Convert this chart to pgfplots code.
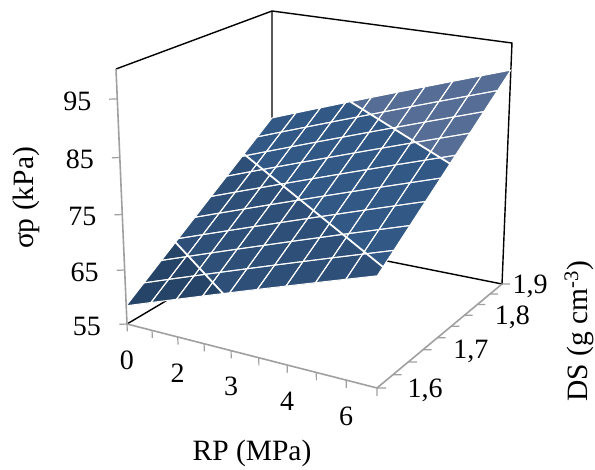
\documentclass[border=0pt]{standalone}
\usepackage{fontspec}
\usepackage{pgfplots}
\pgfplotsset{compat=1.18}
\setmainfont{Liberation Serif}
\definecolor{bandA}{RGB}{38,68,104}
\definecolor{bandB}{RGB}{46,80,120}
\definecolor{bandC}{RGB}{50,88,133}
\definecolor{bandD}{RGB}{86,109,150}
\definecolor{axgray}{RGB}{160,160,160}
% the reference is drawn in perspective: map RP index, DS, sigma to page points
\makeatletter
\def\PerspPoint#1#2#3{%
  \begingroup
  \pgfmathsetmacro\uu{(#1)/9}%
  \pgfmathsetmacro\vv{((#2)-1.6)/0.3}%
  \pgfmathsetmacro\ww{((#3)-55)/45}%
  \pgfmathsetmacro\WW{1-0.10853*\uu+0.14594*\vv-0.06*\ww}%
  \pgfmathsetmacro\XX{(127+209.09*\uu+184.70*\vv+(-17.96-4.04*\uu+1.64*\vv)*\ww)/\WW}%
  \pgfmathsetmacro\YY{(324+21.89*\uu-51.27*\vv+(-259.14+8.19*\uu-1.64*\vv)*\ww)/\WW}%
  \global\pgf@x=\XX pt
  \global\pgf@y=-\YY pt
  \endgroup}
\makeatother
\newcommand\lab{\fontsize{28}{30}\selectfont}
\newcommand\labb{\fontsize{29.5}{31}\selectfont}
\begin{document}
\begin{tikzpicture}
\begin{axis}[
  disabledatascaling, clip=false,
  x={(26.7pt,-6.1pt)}, y={(450pt,316.7pt)}, z={(0pt,5.36pt)},
  xmin=0, xmax=9, ymin=1.6, ymax=1.9, zmin=55, zmax=100,
  execute at begin axis={\let\pgfplotsqpointxyz\PerspPoint},
  axis line style={draw=none},
  tick style={draw=none}, major tick length=0pt,
  tick label style={font=\lab},
  xtick={0,1,2,3,4,5,6,7,8,9}, xticklabels={0,,2,,3,,4,,6,},
  ytick={1.6,1.6333,1.6667,1.7,1.7333,1.7667,1.8,1.8333,1.8667,1.9},
  yticklabels={{1,6},,,{1,7},,,{1,8},,,{\hspace*{-40pt}1,9}},
  ztick={55,65,75,85,95}, zticklabels={55,65,75,85,95},
  xticklabel style={anchor=center, yshift=-36pt},
  yticklabel style={anchor=center, xshift=48pt, yshift=-2pt},
  zticklabel style={anchor=center, xshift=-40pt, yshift=-2pt},
  xlabel={RP (MPa)}, ylabel={DS (g cm\textsuperscript{-3})}, zlabel={σp (kPa)},
  label style={font=\labb},
  xlabel style={at={(canvas cs:x=252pt,y=-453pt)}, anchor=center},
  ylabel style={at={(canvas cs:x=579pt,y=-331pt)}, anchor=center, rotate=90},
  zlabel style={at={(canvas cs:x=26pt,y=-198pt)}, anchor=center},
]
% floor and back walls
\addplot3[black, line width=1.4pt] coordinates {(0,1.6,55) (0,1.9,55) (9,1.9,55) (9,1.9,100) (0,1.9,100) (0,1.6,100)};
\addplot3[black, line width=1.4pt] coordinates {(0,1.9,55) (0,1.9,100)};
% colour bands between the contours
\addplot3[fill=bandA, draw=none] coordinates {(0,1.6,58.4) (3.76,1.6,65) (0,1.6943,65)};
\addplot3[fill=bandB, draw=none] coordinates {(3.76,1.6,65) (9,1.6,74.2) (9,1.6114,75) (0,1.8371,75) (0,1.6943,65)};
\addplot3[fill=bandC, draw=none] coordinates {(9,1.6114,75) (9,1.7543,85) (3.19,1.9,85) (0,1.9,79.4) (0,1.8371,75)};
\addplot3[fill=bandD, draw=none] coordinates {(9,1.7543,85) (9,1.9,95.2) (3.19,1.9,85)};
% surface grid
\addplot3[mesh, mesh/cols=10, line width=1pt, colormap={w}{color=(white) color=(white)}] table {
0 1.6 58.40
1 1.6 60.16
2 1.6 61.91
3 1.6 63.67
4 1.6 65.42
5 1.6 67.18
6 1.6 68.93
7 1.6 70.69
8 1.6 72.44
9 1.6 74.20
0 1.6333 60.73
1 1.6333 62.49
2 1.6333 64.24
3 1.6333 66.00
4 1.6333 67.75
5 1.6333 69.51
6 1.6333 71.26
7 1.6333 73.02
8 1.6333 74.77
9 1.6333 76.53
0 1.6667 63.07
1 1.6667 64.83
2 1.6667 66.58
3 1.6667 68.34
4 1.6667 70.09
5 1.6667 71.85
6 1.6667 73.60
7 1.6667 75.36
8 1.6667 77.11
9 1.6667 78.87
0 1.7 65.40
1 1.7 67.16
2 1.7 68.91
3 1.7 70.67
4 1.7 72.42
5 1.7 74.18
6 1.7 75.93
7 1.7 77.69
8 1.7 79.44
9 1.7 81.20
0 1.7333 67.73
1 1.7333 69.49
2 1.7333 71.24
3 1.7333 73.00
4 1.7333 74.75
5 1.7333 76.51
6 1.7333 78.26
7 1.7333 80.02
8 1.7333 81.77
9 1.7333 83.53
0 1.7667 70.07
1 1.7667 71.83
2 1.7667 73.58
3 1.7667 75.34
4 1.7667 77.09
5 1.7667 78.85
6 1.7667 80.60
7 1.7667 82.36
8 1.7667 84.11
9 1.7667 85.87
0 1.8 72.40
1 1.8 74.16
2 1.8 75.91
3 1.8 77.67
4 1.8 79.42
5 1.8 81.18
6 1.8 82.93
7 1.8 84.69
8 1.8 86.44
9 1.8 88.20
0 1.8333 74.73
1 1.8333 76.49
2 1.8333 78.24
3 1.8333 80.00
4 1.8333 81.75
5 1.8333 83.51
6 1.8333 85.26
7 1.8333 87.02
8 1.8333 88.77
9 1.8333 90.53
0 1.8667 77.07
1 1.8667 78.83
2 1.8667 80.58
3 1.8667 82.34
4 1.8667 84.09
5 1.8667 85.85
6 1.8667 87.60
7 1.8667 89.36
8 1.8667 91.11
9 1.8667 92.87
0 1.9 79.40
1 1.9 81.16
2 1.9 82.91
3 1.9 84.67
4 1.9 86.42
5 1.9 88.18
6 1.9 89.93
7 1.9 91.69
8 1.9 93.44
9 1.9 95.20
};
% contours
\addplot3[white, line width=1.8pt] coordinates {(3.76,1.6,65) (0,1.6943,65)};
\addplot3[white, line width=1.8pt] coordinates {(9,1.6114,75) (0,1.8371,75)};
\addplot3[white, line width=1.8pt] coordinates {(9,1.7543,85) (3.19,1.9,85)};
% front axes
\addplot3[axgray, line width=1.6pt] coordinates {(0,1.6,100) (0,1.6,55) (9,1.6,55) (9,1.9,55)};
% tick marks: straight down on RP, sideways on DS and sigma
\addplot3[axgray, line width=1.2pt, empty line=jump] table {
0 1.6 55
0 1.6 53.6

1 1.6 55
1 1.6 53.6

2 1.6 55
2 1.6 53.6

3 1.6 55
3 1.6 53.6

4 1.6 55
4 1.6 53.6

5 1.6 55
5 1.6 53.6

6 1.6 55
6 1.6 53.6

7 1.6 55
7 1.6 53.6

8 1.6 55
8 1.6 53.6

9 1.6 55
9 1.6 53.6
};
\addplot3[axgray, line width=1.2pt, empty line=jump] table {
9 1.6 55
9.22 1.6045 55

9 1.6333 55
9.22 1.6378 55

9 1.6667 55
9.22 1.6712 55

9 1.7 55
9.22 1.7045 55

9 1.7333 55
9.22 1.7378 55

9 1.7667 55
9.22 1.7712 55

9 1.8 55
9.22 1.8045 55

9 1.8333 55
9.22 1.8378 55

9 1.8667 55
9.22 1.8712 55

9 1.9 55
9.22 1.9045 55
};
\addplot3[axgray, line width=1.2pt, empty line=jump] table {
0 1.6 55
-0.2 1.595 55

0 1.6 65
-0.2 1.595 65

0 1.6 75
-0.2 1.595 75

0 1.6 85
-0.2 1.595 85

0 1.6 95
-0.2 1.595 95
};
\coordinate (pTL) at (canvas cs:x=0pt,y=0pt);
\coordinate (pBR) at (canvas cs:x=595pt,y=-470pt);
\end{axis}
\pgfresetboundingbox
\useasboundingbox (pTL) rectangle (pBR);
\end{tikzpicture}
\end{document}
